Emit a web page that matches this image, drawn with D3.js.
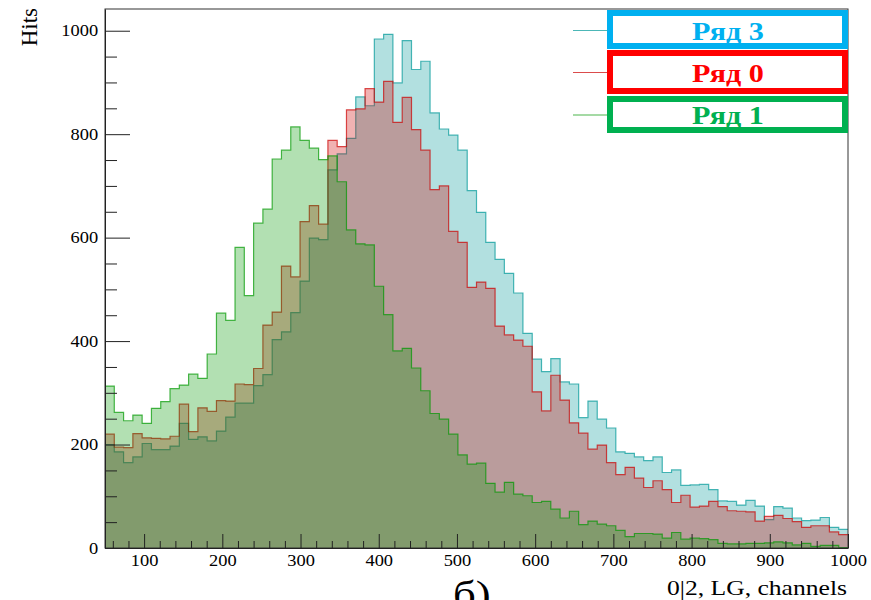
<!DOCTYPE html>
<meta charset="utf-8">

<script src="https://d3js.org/d3.v7.min.js"></script>

<style type="text/css">
body { margin: 0; background: #fff; }
text { font-family: "Liberation Serif", serif; }
</style>

<body>
</body>

<script>

// histogram binning: 80 bins from 50 to 1000 channels
var xMin = 50, xMax = 1000, nBins = 80;

// bin contents
var row3 = [200,186,165,176,202,190,190,197,241,210,215,207,226,253,280,280,314,335,403,418,
            455,516,599,596,731,762,792,872,855,984,993,899,981,925,941,841,810,798,769,691,
            649,591,558,531,493,415,365,341,366,321,317,252,284,249,232,186,183,176,169,176,
            146,151,121,122,123,113,91,90,83,92,81,55,80,77,58,53,54,59,40,36];

var row0 = [220,195,194,221,213,212,211,216,278,225,271,264,285,284,317,316,347,431,456,545,
            524,631,662,626,788,776,847,849,888,862,902,823,871,809,769,693,700,612,591,504,
            514,502,429,412,402,390,302,265,334,286,242,222,191,199,165,142,156,135,117,130,
            113,88,102,79,81,90,80,72,71,70,52,61,63,57,51,40,43,43,31,26];

var row1 = [313,262,246,257,241,270,283,308,315,336,328,375,454,440,581,488,628,655,752,769,
            814,788,773,751,758,708,615,588,586,506,451,381,386,348,304,260,249,220,180,162,
            164,125,108,127,104,101,88,90,75,58,71,45,52,46,43,34,22,28,28,27,
            19,30,17,19,18,16,9,8,8,9,9,10,12,10,6,9,3,5,5,1];

var legendNames = ["Ряд 3", "Ряд 0", "Ряд 1"];
var xTickValues = [100, 200, 300, 400, 500, 600, 700, 800, 900, 1000];
var yTickValues = [0, 200, 400, 600, 800, 1000];
var yMax = 1042;

var histColors = ["rgb(0,153,153)", "rgb(204,0,0)", "rgb(0,153,0)"];
var legendColors = ["#00b0f0", "#ff0000", "#00b050"];

var width = 871, height = 600;
var plot = {left: 105, right: 848, top: 9, bottom: 548};

var svg = d3.select("body").append("svg")
    .attr("width", width)
    .attr("height", height);

var xScale = d3.scaleLinear().domain([xMin, xMax]).range([plot.left, plot.right]);
var yScale = d3.scaleLinear().domain([0, yMax]).range([plot.bottom, plot.top]);

var binWidth = (xMax - xMin) / nBins;
var edges = d3.range(nBins + 1).map(function(i) { return xMin + i * binWidth; });

function stepData(values) {
  var pts = values.map(function(v, i) { return {x: edges[i], y: v}; });
  pts.push({x: xMax, y: values[values.length - 1]});
  return pts;
}

var area = d3.area()
    .curve(d3.curveStepAfter)
    .x(function(d) { return xScale(d.x); })
    .y0(yScale(0))
    .y1(function(d) { return yScale(d.y); });

var line = d3.line()
    .curve(d3.curveStepAfter)
    .x(function(d) { return xScale(d.x); })
    .y(function(d) { return yScale(d.y); });

// draw order as in the original: Ряд 3, Ряд 0, Ряд 1
[row3, row0, row1].forEach(function(values, i) {
  var g = svg.append("g").attr("class", "hist");
  g.append("path")
    .attr("d", area(stepData(values)))
    .style("fill", histColors[i])
    .style("fill-opacity", 0.3);
  g.append("path")
    .attr("d", line(stepData(values)))
    .style("fill", "none")
    .style("stroke", histColors[i])
    .style("stroke-opacity", 0.7)
    .style("stroke-width", 1.2);
});

// frame
svg.append("rect")
    .attr("x", plot.left)
    .attr("y", plot.top)
    .attr("width", plot.right - plot.left)
    .attr("height", plot.bottom - plot.top)
    .style("fill", "none")
    .style("stroke", "#333")
    .style("stroke-width", 1);

// axes, ROOT style ticks pointing inward
var xMinor = d3.range(60, 1000, 20).filter(function(v) { return v % 100 !== 0; });
var yMinor = d3.range(50, 1000, 50).filter(function(v) { return v % 200 !== 0; });

var xAxis = d3.axisBottom(xScale).tickValues(xTickValues)
    .tickSizeInner(-14).tickSizeOuter(0).tickPadding(7).tickFormat(d3.format("d"));
var xAxisMinor = d3.axisBottom(xScale).tickValues(xMinor)
    .tickSizeInner(-7).tickSizeOuter(0).tickFormat("");
var yAxis = d3.axisLeft(yScale).tickValues(yTickValues)
    .tickSizeInner(-25).tickSizeOuter(0).tickPadding(6).tickFormat(d3.format("d"));
var yAxisMinor = d3.axisLeft(yScale).tickValues(yMinor)
    .tickSizeInner(-12).tickSizeOuter(0).tickFormat("");

svg.append("g").attr("class", "x axis minor")
    .attr("transform", "translate(0," + plot.bottom + ")")
    .call(xAxisMinor)
    .select(".domain").remove();
var xAxisGroup = svg.append("g").attr("class", "x axis")
    .attr("transform", "translate(0," + plot.bottom + ")")
    .call(xAxis);

svg.append("g").attr("class", "y axis minor")
    .attr("transform", "translate(" + plot.left + ",0)")
    .call(yAxisMinor)
    .select(".domain").remove();
var yAxisGroup = svg.append("g").attr("class", "y axis")
    .attr("transform", "translate(" + plot.left + ",0)")
    .call(yAxis);

svg.selectAll(".axis").attr("font-family", null);
svg.selectAll(".axis line, .axis path").style("stroke", "#222");
svg.selectAll(".axis text")
    .style("font-family", "'Liberation Serif', serif")
    .style("font-size", "16px")
    .style("fill", "#000")
    .attr("transform", "scale(1.15,1)");

// axis titles
svg.append("text")
    .attr("transform", "translate(847,595) scale(1.22,1)")
    .attr("text-anchor", "end")
    .style("font-size", "21px")
    .text("0|2, LG, channels");

svg.append("text")
    .attr("transform", "translate(37,8) rotate(-90)")
    .attr("text-anchor", "end")
    .style("font-size", "23px")
    .text("Hits");

svg.append("text")
    .attr("transform", "translate(453,607) scale(1.15,1)")
    .style("font-size", "39px")
    .text("б)");

// legend
var legendBoxes = [
  {y0: 10, y1: 49, base: 40, mark: 30.5},
  {y0: 50, y1: 94, base: 82, mark: 72.5},
  {y0: 96, y1: 133, base: 124, mark: 115}
];

var legend = svg.append("g").attr("class", "legend");

legendNames.forEach(function(name, i) {
  var b = legendBoxes[i];
  legend.append("line")
    .attr("x1", 573).attr("x2", 607)
    .attr("y1", b.mark).attr("y2", b.mark)
    .style("stroke", histColors[i])
    .style("stroke-opacity", 0.7)
    .style("stroke-width", 1.2);
  legend.append("rect")
    .attr("x", 610).attr("y", b.y0 + 3)
    .attr("width", 848 - 610 - 3).attr("height", b.y1 - b.y0 - 6)
    .style("fill", "#fff")
    .style("stroke", legendColors[i])
    .style("stroke-width", 6);
  legend.append("text")
    .attr("transform", "translate(728," + b.base + ") scale(1.16,1)")
    .attr("text-anchor", "middle")
    .style("font-size", "26px")
    .style("font-weight", "bold")
    .style("fill", legendColors[i])
    .text(name);
});

</script>
